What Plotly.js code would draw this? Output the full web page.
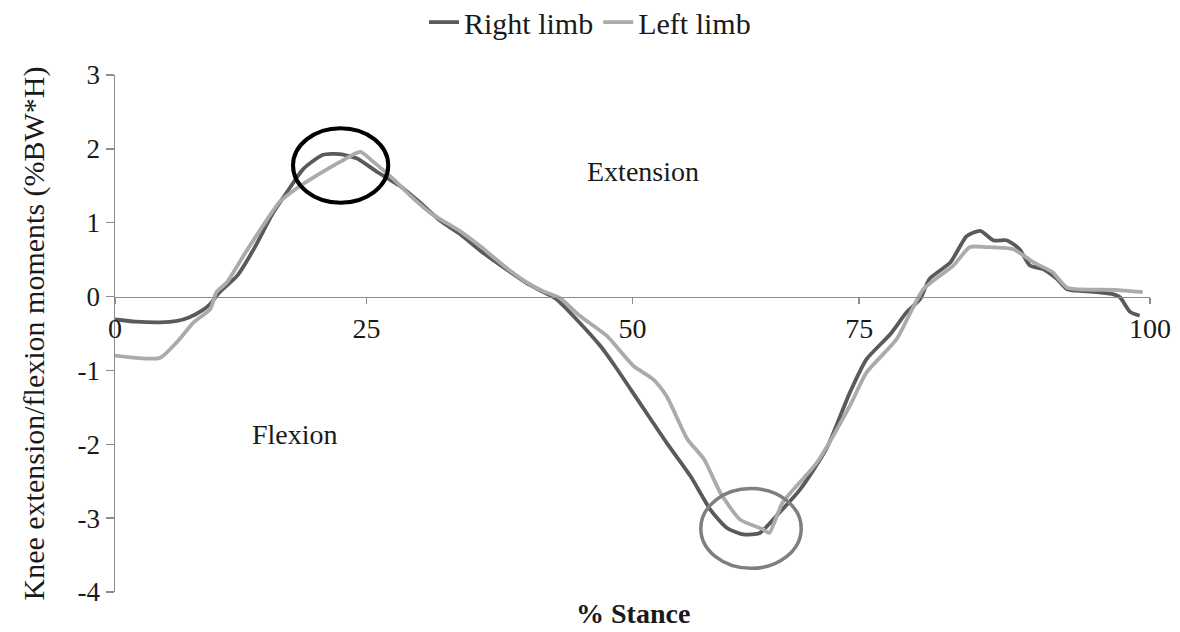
<!DOCTYPE html>
<html>
<head>
<meta charset="utf-8">
<script src="https://cdn.plot.ly/plotly-3.0.1.min.js"></script>
<style>
  html, body { margin: 0; padding: 0; background: #fff; }
  #chart { width: 1180px; height: 632px; }
</style>
</head>
<body>
<div id="chart"></div>
<script>
// % stance and knee moments
let right_x = [0, 2, 4.35, 6, 7.2, 8.5, 9.2, 10.1, 11.8, 13.4, 15.3, 16.6, 18.2, 20.1, 21.7, 23.4, 25.3,
	27.5, 29.5, 31.4, 33.3, 35.3, 37.8, 39.7, 41.4, 42.6, 44.6, 46.9, 48.3, 50.7, 53.3, 55.6, 57.5,
	59.1, 60.7, 62.3, 63.9, 66.2, 68.7, 71.0, 72.6, 74.9, 76.5, 77.8, 78.7, 80.7, 82.3, 83.6, 84.9,
	86.2, 87.4, 88.4, 89.7, 91.0, 92.0, 94, 96.5, 97.1, 98.1, 99.0];
let right_y = [-0.31, -0.34, -0.35, -0.33, -0.28, -0.18, -0.10, 0.06, 0.28, 0.64, 1.14, 1.41, 1.73, 1.92, 1.93, 1.87, 1.69,
	1.50, 1.27, 1.03, 0.85, 0.62, 0.37, 0.19, 0.06, -0.03, -0.31, -0.67, -0.94, -1.44, -1.98, -2.43, -2.88,
	-3.13, -3.22, -3.20, -2.97, -2.61, -2.07, -1.30, -0.85, -0.51, -0.21, -0.03, 0.24, 0.46, 0.82, 0.89, 0.76,
	0.76, 0.64, 0.42, 0.37, 0.24, 0.10, 0.07, 0.03, -0.01, -0.21, -0.26];

let left_x = [0, 2, 4.35, 5.96, 7.6, 9.2, 9.8, 10.8, 12.4, 14.3, 15.9, 17.5, 19.5, 21.7, 23.7, 25.0, 26.9,
	28.5, 30.4, 31.4, 33.3, 35.3, 37.8, 39.7, 41.4, 43.0, 44.9, 47.5, 50.1, 52.0, 53.3, 55.3, 56.9,
	58.5, 60.4, 62.6, 63.2, 64.5, 67.8, 71.0, 72.6, 75.5, 78.1, 81.0, 82.6, 84.2, 86.8, 88.8, 90.6,
	92.0, 96.5, 99.3];
let left_y = [-0.80, -0.83, -0.83, -0.62, -0.35, -0.17, 0.06, 0.19, 0.55, 0.96, 1.28, 1.46, 1.64, 1.82, 1.96, 1.82, 1.59,
	1.37, 1.14, 1.05, 0.89, 0.68, 0.39, 0.20, 0.07, -0.02, -0.26, -0.53, -0.94, -1.12, -1.35, -1.93, -2.20,
	-2.66, -3.02, -3.15, -3.20, -2.79, -2.25, -1.48, -1.03, -0.58, 0.10, 0.42, 0.67, 0.67, 0.64, 0.46, 0.33,
	0.12, 0.09, 0.06];

let x_tick_vals = [0, 24.3, 50, 71.9, 100];
let x_tick_text = ['0', '25', '50', '75', '100'];
let y_tick_vals = [-4, -3, -2, -1, 0, 1, 2, 3];
let y_tick_text = ['-4', '-3', '-2', '-1', '0', '1', '2', '3'];

const serif = 'Liberation Serif, Times New Roman, serif';
const axisGrey = '#8c8c8c';
const ink = '#1a1a1a';

let right = {
	x: right_x,
	y: right_y,
	name: 'Right limb',
	mode: 'lines',
	line: {color: '#5a5a5a', width: 3.8, shape: 'spline', smoothing: 0.6}
};

let left = {
	x: left_x,
	y: left_y,
	name: 'Left limb',
	mode: 'lines',
	line: {color: '#ababab', width: 3.8, shape: 'spline', smoothing: 0.6}
};

let layout = {
	width: 1180,
	height: 632,
	margin: {l: 115, r: 30, t: 75, b: 40},
	paper_bgcolor: '#fff',
	plot_bgcolor: '#fff',
	font: {family: serif, color: ink, size: 26},
	showlegend: true,
	legend: {
		orientation: 'h',
		xref: 'container', yref: 'container',
		x: 0.5, xanchor: 'center',
		y: 0.965, yanchor: 'middle',
		font: {family: serif, size: 30, color: ink},
		traceorder: 'normal'
	},
	xaxis: {
		range: [0, 100],
		anchor: 'free',
		position: 4 / 7,
		showline: true, linecolor: axisGrey, linewidth: 1.5,
		ticks: 'outside', ticklen: 6, tickcolor: axisGrey, tickwidth: 1.5,
		tickvals: x_tick_vals, ticktext: x_tick_text,
		tickfont: {family: serif, size: 28, color: ink},
		showgrid: false, zeroline: false
	},
	yaxis: {
		range: [-4, 3],
		showline: true, linecolor: axisGrey, linewidth: 1.5,
		ticks: 'outside', ticklen: 8, tickcolor: axisGrey, tickwidth: 1.5,
		tickvals: y_tick_vals, ticktext: y_tick_text,
		tickfont: {family: serif, size: 27, color: ink},
		showgrid: false, zeroline: false,
		title: {text: 'Knee extension/flexion moments (%BW*H)', standoff: 24,
			font: {family: serif, size: 30, color: ink}}
	},
	annotations: [
		{x: 51.0, y: 1.70, xref: 'x', yref: 'y', text: 'Extension', showarrow: false,
			font: {family: serif, size: 28, color: ink}},
		{x: 17.4, y: -1.87, xref: 'x', yref: 'y', text: 'Flexion', showarrow: false,
			font: {family: serif, size: 28, color: ink}},
		{x: 50, y: 0, xref: 'x', yref: 'paper', yanchor: 'top', yshift: -4,
			text: '<b>% Stance</b>', showarrow: false,
			font: {family: serif, size: 28, color: ink}}
	],
	shapes: [
		{type: 'circle', xref: 'x', yref: 'y', x0: 17.2, x1: 26.4, y0: 1.27, y1: 2.28,
			line: {color: '#000', width: 4}},
		{type: 'circle', xref: 'x', yref: 'y', x0: 56.6, x1: 66.3, y0: -3.68, y1: -2.60,
			line: {color: '#7f7f7f', width: 3.5}}
	]
};

Plotly.newPlot('chart', [right, left], layout, {displayModeBar: false, staticPlot: true});
</script>
</body>
</html>
